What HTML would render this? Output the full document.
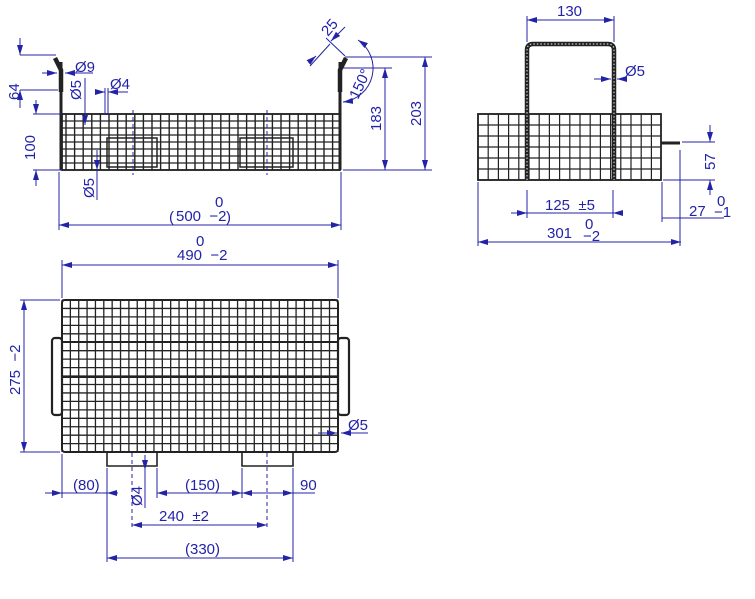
<!DOCTYPE html>
<html><head><meta charset="utf-8"><style>
html,body{margin:0;padding:0;background:#fff;width:755px;height:599px;overflow:hidden}
svg{display:block}
text{font-family:"Liberation Sans",sans-serif;fill:#2323a8;font-size:15px;white-space:pre}
.d{stroke:#2323a8;stroke-width:1;fill:none}
.k{stroke:#222;fill:none}
</style></head><body>
<svg id="s" width="755" height="599" viewBox="0 0 755 599" xmlns="http://www.w3.org/2000/svg">
<defs>
<marker id="a" viewBox="0 0 10 6" refX="10" refY="3" markerWidth="10" markerHeight="6" orient="auto-start-reverse" markerUnits="userSpaceOnUse"><path d="M0,0L10,3L0,6z" fill="#2323a8"/></marker>
</defs>
<g id="grid"></g>

<!-- FRONT VIEW -->
<rect x="62" y="114" width="278" height="56" class="k" stroke-width="1.8"/>
<line x1="61" y1="62" x2="61" y2="170" class="k" stroke-width="3"/>
<line x1="340" y1="62" x2="340" y2="170" class="k" stroke-width="3"/>
<path d="M61,92 L61,70 L55,58" class="k" stroke-width="4.5"/>
<path d="M340,92 L340,70 L346,58" class="k" stroke-width="4.5"/>
<rect x="107" y="138" width="50" height="29" class="k" stroke-width="1.5"/>
<rect x="240" y="138" width="53" height="29" class="k" stroke-width="1.5"/>
<line x1="133" y1="110" x2="133" y2="175" class="d" stroke-dasharray="4,3"/>
<line x1="267" y1="110" x2="267" y2="175" class="d" stroke-dasharray="4,3"/>

<line x1="20" y1="38" x2="20" y2="55" class="d" marker-end="url(#a)"/>
<line x1="20" y1="108" x2="20" y2="90" class="d" marker-end="url(#a)"/>
<line x1="20" y1="55" x2="56" y2="55" class="d"/><line x1="20" y1="90" x2="58" y2="90" class="d"/>
<text transform="translate(19,100) rotate(-90)">64</text>
<line x1="42" y1="73" x2="57" y2="73" class="d" marker-end="url(#a)"/>
<line x1="93" y1="73" x2="65" y2="73" class="d" marker-end="url(#a)"/>
<text x="75" y="72">Ø9</text>
<line x1="85" y1="78" x2="85" y2="125" class="d" marker-end="url(#a)"/>
<text transform="translate(81,100) rotate(-90)">Ø5</text>
<line x1="95" y1="92" x2="105" y2="92" class="d" marker-end="url(#a)"/>
<line x1="128" y1="92" x2="108" y2="92" class="d" marker-end="url(#a)"/>
<line x1="105" y1="88" x2="105" y2="115" class="d"/><line x1="108" y1="88" x2="108" y2="115" class="d"/>
<text x="110" y="89">Ø4</text>
<line x1="36" y1="100" x2="36" y2="114" class="d" marker-end="url(#a)"/>
<line x1="36" y1="186" x2="36" y2="170" class="d" marker-end="url(#a)"/>
<line x1="33" y1="114" x2="62" y2="114" class="d"/><line x1="33" y1="170" x2="62" y2="170" class="d"/>
<text transform="translate(35,160) rotate(-90)">100</text>
<line x1="97" y1="150" x2="97" y2="170" class="d" marker-end="url(#a)"/>
<line x1="97" y1="170" x2="97" y2="200" class="d"/>
<text transform="translate(94,198) rotate(-90)">Ø5</text>
<line x1="59" y1="172" x2="59" y2="230" class="d"/><line x1="341" y1="172" x2="341" y2="230" class="d"/>
<line x1="200" y1="225" x2="59" y2="225" class="d" marker-end="url(#a)"/>
<line x1="200" y1="225" x2="341" y2="225" class="d" marker-end="url(#a)"/>
<text x="215" y="207">0</text>
<text x="176" y="221">500  −2</text>
<text x="169" y="222" font-size="22">(</text><text x="226" y="222" font-size="22">)</text>
<!-- 25 / 150 -->
<line x1="310" y1="66" x2="330" y2="44" class="d"/>
<line x1="326" y1="38" x2="345" y2="56" class="d"/>
<line x1="309" y1="62" x2="316" y2="56" class="d" marker-end="url(#a)"/>
<line x1="345" y1="27" x2="331" y2="41" class="d" marker-end="url(#a)"/>
<text transform="translate(328,37) rotate(-50)">25</text>
<path d="M358,40 A34,34 0 0 1 343,102" class="d" marker-start="url(#a)" marker-end="url(#a)"/>
<text transform="translate(358,100) rotate(-65)">150°</text>
<line x1="345" y1="57" x2="432" y2="57" class="d"/><line x1="343" y1="68" x2="392" y2="68" class="d"/>
<line x1="343" y1="170" x2="432" y2="170" class="d"/>
<line x1="385" y1="115" x2="385" y2="68" class="d" marker-end="url(#a)"/>
<line x1="385" y1="115" x2="385" y2="170" class="d" marker-end="url(#a)"/>
<text transform="translate(381,131) rotate(-90)">183</text>
<line x1="425" y1="115" x2="425" y2="57" class="d" marker-end="url(#a)"/>
<line x1="425" y1="115" x2="425" y2="170" class="d" marker-end="url(#a)"/>
<text transform="translate(421,126) rotate(-90)">203</text>

<!-- SIDE VIEW -->
<rect x="478" y="114" width="183" height="66" class="k" stroke-width="1.8"/>
<path d="M527,180 L527,50 Q527,44 533,44 L608,44 Q614,44 614,50 L614,180" class="k" stroke-width="4.5"/>
<path d="M527,180 L527,50 Q527,44 533,44 L608,44 Q614,44 614,50 L614,180" fill="none" stroke="#ccc" stroke-width="1.2" stroke-dasharray="1.5,2"/>
<line x1="661" y1="143" x2="680" y2="143" class="k" stroke-width="3"/>
<line x1="527" y1="42" x2="527" y2="16" class="d"/><line x1="614" y1="42" x2="614" y2="16" class="d"/>
<line x1="570" y1="20" x2="527" y2="20" class="d" marker-end="url(#a)"/>
<line x1="570" y1="20" x2="614" y2="20" class="d" marker-end="url(#a)"/>
<text x="557" y="16">130</text>
<line x1="594" y1="79" x2="611" y2="79" class="d" marker-end="url(#a)"/>
<line x1="624" y1="79" x2="617" y2="79" class="d" marker-end="url(#a)"/>
<text x="625" y="76">Ø5</text>
<line x1="682" y1="142" x2="715" y2="142" class="d"/><line x1="663" y1="180" x2="715" y2="180" class="d"/>
<line x1="710" y1="125" x2="710" y2="142" class="d" marker-end="url(#a)"/>
<line x1="710" y1="195" x2="710" y2="180" class="d" marker-end="url(#a)"/>
<text transform="translate(715,170) rotate(-90)">57</text>
<line x1="527" y1="190" x2="527" y2="218" class="d"/><line x1="613" y1="190" x2="613" y2="218" class="d"/>
<line x1="511" y1="213" x2="527" y2="213" class="d" marker-end="url(#a)"/>
<line x1="620" y1="213" x2="613" y2="213" class="d" marker-end="url(#a)"/>
<line x1="527" y1="213" x2="613" y2="213" class="d"/>
<text x="545" y="210">125  ±5</text>
<line x1="662" y1="182" x2="662" y2="222" class="d"/><line x1="680" y1="150" x2="680" y2="246" class="d"/>
<line x1="662" y1="218" x2="680" y2="218" class="d"/>
<line x1="680" y1="218" x2="724" y2="218" class="d"/>
<text x="689" y="216">27</text><text x="717" y="206" font-size="10">0</text><text x="714" y="217" font-size="10">−1</text>
<line x1="478" y1="182" x2="478" y2="246" class="d"/>
<line x1="580" y1="242" x2="478" y2="242" class="d" marker-end="url(#a)"/>
<line x1="580" y1="242" x2="681" y2="242" class="d" marker-end="url(#a)"/>
<text x="547" y="238">301</text><text x="585" y="229" font-size="10">0</text><text x="583" y="241" font-size="10">−2</text>

<!-- TOP VIEW -->
<rect x="62" y="300" width="276" height="152" rx="3" class="k" stroke-width="2"/>
<rect x="52" y="338" width="10" height="77" rx="3" class="k" stroke-width="2.2"/>
<rect x="338" y="338" width="11" height="77" rx="3" class="k" stroke-width="2.2"/>
<path d="M107,452 L107,466 L157,466 L157,452" class="k" stroke-width="1.6"/>
<path d="M242,452 L242,466 L293,466 L293,452" class="k" stroke-width="1.6"/>
<line x1="132" y1="453" x2="132" y2="530" class="d" stroke-dasharray="4,3"/>
<line x1="267" y1="453" x2="267" y2="530" class="d" stroke-dasharray="4,3"/>
<line x1="62" y1="298" x2="62" y2="260" class="d"/><line x1="338" y1="298" x2="338" y2="260" class="d"/>
<line x1="200" y1="265" x2="62" y2="265" class="d" marker-end="url(#a)"/>
<line x1="200" y1="265" x2="338" y2="265" class="d" marker-end="url(#a)"/>
<text x="196" y="246">0</text><text x="177" y="260">490  −2</text>
<line x1="20" y1="300" x2="60" y2="300" class="d"/><line x1="20" y1="452" x2="60" y2="452" class="d"/>
<line x1="24" y1="370" x2="24" y2="300" class="d" marker-end="url(#a)"/>
<line x1="24" y1="370" x2="24" y2="452" class="d" marker-end="url(#a)"/>
<text transform="translate(20,395) rotate(-90)">275  −2</text>
<line x1="318" y1="433" x2="337" y2="433" class="d" marker-end="url(#a)"/>
<line x1="368" y1="433" x2="341" y2="433" class="d" marker-end="url(#a)"/>
<text x="348" y="430">Ø5</text>
<line x1="62" y1="454" x2="62" y2="498" class="d"/>
<line x1="107" y1="468" x2="107" y2="562" class="d"/><line x1="157" y1="468" x2="157" y2="498" class="d"/>
<line x1="242" y1="468" x2="242" y2="498" class="d"/><line x1="293" y1="468" x2="293" y2="562" class="d"/>
<line x1="45" y1="493" x2="62" y2="493" class="d" marker-end="url(#a)"/>
<line x1="118" y1="493" x2="107" y2="493" class="d" marker-end="url(#a)"/>
<line x1="62" y1="493" x2="107" y2="493" class="d"/>
<text x="73" y="490">(80)</text>
<line x1="200" y1="493" x2="157" y2="493" class="d" marker-end="url(#a)"/>
<line x1="200" y1="493" x2="242" y2="493" class="d" marker-end="url(#a)"/>
<text x="185" y="490">(150)</text>
<line x1="242" y1="493" x2="293" y2="493" class="d" marker-start="url(#a)" marker-end="url(#a)"/>
<line x1="293" y1="493" x2="315" y2="493" class="d"/>
<text x="300" y="490">90</text>
<line x1="145" y1="455" x2="145" y2="470" class="d" marker-end="url(#a)"/>
<line x1="145" y1="470" x2="145" y2="508" class="d"/>
<text transform="translate(142,506) rotate(-90)">Ø4</text>
<line x1="200" y1="525" x2="132" y2="525" class="d" marker-end="url(#a)"/>
<line x1="200" y1="525" x2="267" y2="525" class="d" marker-end="url(#a)"/>
<text x="159" y="521">240  ±2</text>
<line x1="200" y1="558" x2="107" y2="558" class="d" marker-end="url(#a)"/>
<line x1="200" y1="558" x2="293" y2="558" class="d" marker-end="url(#a)"/>
<text x="185" y="554">(330)</text>
</svg>
<script>
var g=document.getElementById('grid'),ns='http://www.w3.org/2000/svg';
function L(x1,y1,x2,y2,w,c){var l=document.createElementNS(ns,'line');l.setAttribute('x1',x1);l.setAttribute('y1',y1);l.setAttribute('x2',x2);l.setAttribute('y2',y2);l.setAttribute('stroke',c||'#222');l.setAttribute('stroke-width',w||1);g.appendChild(l);}
for(var x=66;x<340;x+=8.6)L(x,114,x,170,1.4);
for(var y=114;y<=170;y+=7)L(62,y,340,y,1.2);
for(var x=478;x<=661;x+=10.2)L(x,114,x,180,1.2);
for(var y=114;y<=180;y+=11)L(478,y,661,y,1.2);
for(var x=62;x<=338;x+=8.36)L(x,300,x,452,1.3);
for(var y=300;y<=452;y+=8.45)L(62,y,338,y,1.3);
L(62,342,338,342,2);L(62,377,338,377,2);
</script>
</body></html>
